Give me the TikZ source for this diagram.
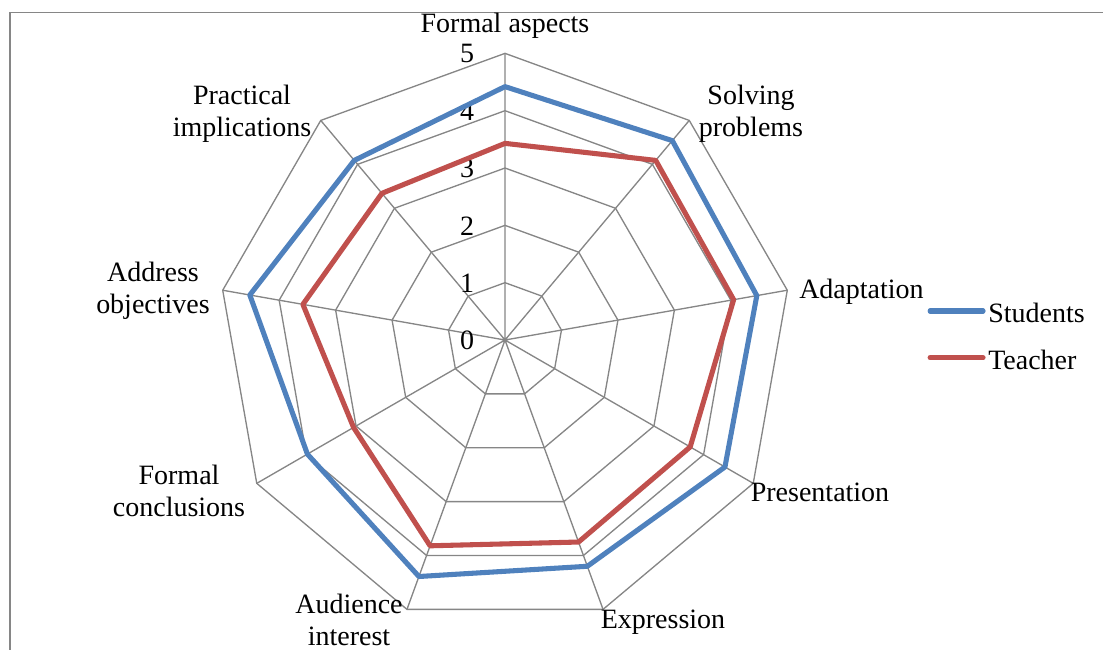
\documentclass[tikz,border=0pt]{standalone}
\usepackage{fontspec}
\setmainfont{Liberation Serif}
\usepackage{tikz}

\definecolor{stublue}{HTML}{4F81BD}
\definecolor{teared}{HTML}{C0504D}
\definecolor{gridgray}{HTML}{868686}

\tikzset{
  gridline/.style={draw=gridgray, line width=1pt},
  serieslow/.style={line width=3.8pt, line join=round},
  students/.style={serieslow, draw=stublue},
  teacher/.style={serieslow, draw=teared},
  axislabel/.style={inner sep=0pt, align=center, font=\fontsize{21}{23.5}\selectfont},
  ticklabel/.style={inner sep=0pt, font=\fontsize{21}{23.5}\selectfont}
}

\begin{document}
\begin{tikzpicture}[x=43pt,y=43pt]
\useasboundingbox (-8.809,-5.407) rectangle (10.431,5.931);
\draw[draw=gridgray, line width=0.8pt] (-8.634,-5.407) -- (-8.634,5.709) -- (10.431,5.709);

% web
\draw[gridline] (90:1) -- (50:1) -- (10:1) -- (-30:1) -- (-70:1) -- (-110:1) -- (-150:1) -- (-190:1) -- (-230:1) -- cycle;
\draw[gridline] (90:2) -- (50:2) -- (10:2) -- (-30:2) -- (-70:2) -- (-110:2) -- (-150:2) -- (-190:2) -- (-230:2) -- cycle;
\draw[gridline] (90:3) -- (50:3) -- (10:3) -- (-30:3) -- (-70:3) -- (-110:3) -- (-150:3) -- (-190:3) -- (-230:3) -- cycle;
\draw[gridline] (90:4) -- (50:4) -- (10:4) -- (-30:4) -- (-70:4) -- (-110:4) -- (-150:4) -- (-190:4) -- (-230:4) -- cycle;
\draw[gridline] (90:5) -- (50:5) -- (10:5) -- (-30:5) -- (-70:5) -- (-110:5) -- (-150:5) -- (-190:5) -- (-230:5) -- cycle;
\coordinate (hub) at (0,0);
\draw[gridline] (hub) -- (90:5) (hub) -- (50:5) (hub) -- (10:5) (hub) -- (-30:5) (hub) -- (-70:5)
  (hub) -- (-110:5) (hub) -- (-150:5) (hub) -- (-190:5) (hub) -- (-230:5);

% scale
\node[ticklabel] (tick0) at (-0.66,-0.01){0};
\node[ticklabel] (tick1) at (-0.66,0.99){1};
\node[ticklabel] (tick2) at (-0.66,1.99){2};
\node[ticklabel] (tick3) at (-0.66,2.99){3};
\node[ticklabel] (tick4) at (-0.66,3.99){4};
\node[ticklabel] (tick5) at (-0.66,4.99){5};

% series
\draw[students] (90:4.42) -- (50:4.54) -- (10:4.46) -- (-30:4.43) -- (-70:4.2) -- (-110:4.39) -- (-150:3.98) -- (-190:4.52) -- (-230:4.09) -- cycle;
\draw[teacher] (90:3.43) -- (50:4.09) -- (10:4.05) -- (-30:3.73) -- (-70:3.75) -- (-110:3.82) -- (-150:3.05) -- (-190:3.58) -- (-230:3.34) -- cycle;

% categories
\node[axislabel] (formalasp) at (0,5.49){Formal aspects};
\node[axislabel] (solving) at (4.291,3.944){Solving\\problems};
\node[axislabel] (adapt) at (6.218,0.84){Adaptation};
\node[axislabel] (present) at (5.495,-2.65){Presentation};
\node[axislabel] (express) at (2.756,-4.93){Expression};
\node[axislabel] (audience) at (-2.721,-4.88){Audience\\interest};
\node[axislabel] (formalconc) at (-5.686,-2.632){Formal\\conclusions};
\node[axislabel] (address) at (-6.140,0.857){Address\\objectives};
\node[axislabel] (practical) at (-4.587,3.944){Practical\\implications};

% legend
\coordinate (stuA) at (7.415,0.506);
\coordinate (stuB) at (8.339,0.506);
\coordinate (teaA) at (7.415,-0.309);
\coordinate (teaB) at (8.339,-0.309);
\draw[students, line cap=round] (stuA) -- (stuB);
\draw[teacher, line cap=round] (teaA) -- (teaB);
\node[axislabel, anchor=west] (stukey) at (8.425,0.47){Students};
\node[axislabel, anchor=west] (teakey) at (8.425,-0.345){Teacher};
\end{tikzpicture}
\end{document}
